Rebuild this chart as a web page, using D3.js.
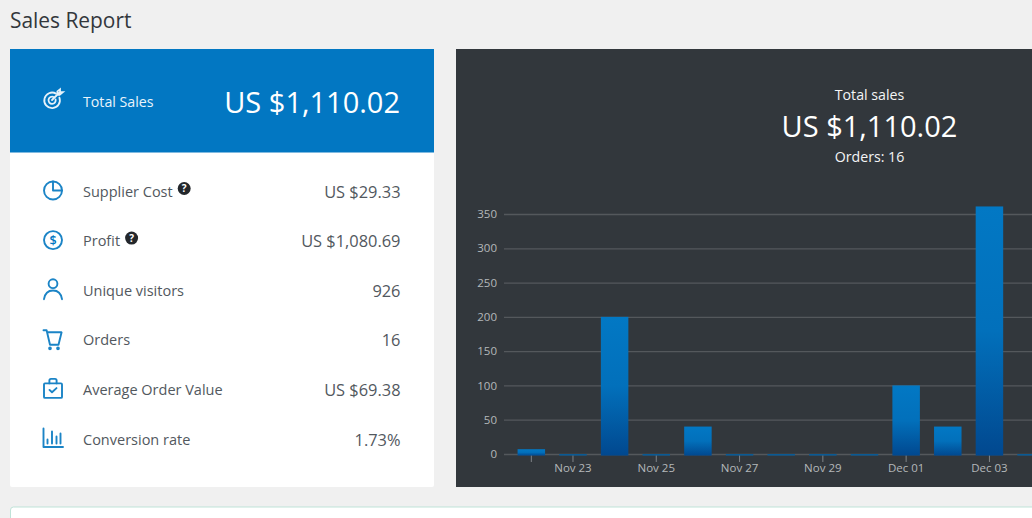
<!DOCTYPE html>
<html>
<head>
<meta charset="utf-8">
<title>Sales Report</title>
<script src="https://cdn.jsdelivr.net/npm/d3@7/dist/d3.min.js"></script>
<style>
html,body{margin:0;padding:0;background:#f0f0f0;overflow:hidden}
svg{display:block}
text{font-family:"Open Sans","Noto Sans",sans-serif}
</style>
</head>
<body>
<svg id="page" width="1032" height="518"></svg>
<script>
// Daily sales, one entry per day
const days = ["Nov 22","Nov 23","Nov 24","Nov 25","Nov 26","Nov 27","Nov 28","Nov 29","Nov 30","Dec 01","Dec 02","Dec 03","Dec 04"];
const sales = [7,0,200,0,40,0,0,0,0,100,40,361,0];
const tickDays = ["Nov 23","Nov 25","Nov 27","Nov 29","Dec 01","Dec 03"];
const markedDays = ["Nov 22","Nov 23","Nov 25","Nov 27","Nov 29","Dec 01","Dec 03"];
const valueTicks = [0,50,100,150,200,250,300,350];

// Summary list on the left card
const metricNames = ["Supplier Cost","Profit","Unique visitors","Orders","Average Order Value","Conversion rate"];
const metricValues = ["US $29.33","US $1,080.69","926","16","US $69.38","1.73%"];
const metricIcons = ["pie","dollar","user","cart","bag","bars"];
const metricHelp = [true,true,false,false,false,false];
const totalSales = "US $1,110.02";
const orderCount = 16;

const blue = "#0277c2", ink = "#52585e";
const svg = d3.select("#page");

svg.append("text").attr("x",10).attr("y",28).attr("font-size",20.9).attr("fill","#33373c").text("Sales Report");

// Left card
svg.append("rect").attr("x",10).attr("y",49).attr("width",424).attr("height",438).attr("rx",2).attr("fill","#fff");
svg.append("rect").attr("x",10).attr("y",49).attr("width",424).attr("height",103.5).attr("fill",blue);
const targetIcon = svg.append("g").attr("transform","translate(52,100)").attr("fill","none").attr("stroke","#e6f2fa").attr("stroke-width",1.8).attr("stroke-linecap","round");
targetIcon.append("path").attr("d","M4,-6.4A7.8,7.8 0 1 0 7.4,-2.4");
targetIcon.append("path").attr("d","M1.6,-3A3.6,3.6 0 1 0 3.6,-0.6");
targetIcon.append("path").attr("d","M0,0L7,-7M5.4,-5.4V-8.6L8,-10.6V-7.8H10.8L7.6,-5.2Z");
svg.append("text").attr("x",83).attr("y",106.5).attr("font-size",14.2).attr("fill","#eaf4fb").text("Total Sales");
svg.append("text").attr("x",400).attr("y",113).attr("text-anchor","end").attr("font-size",29).attr("fill","#fff").text(totalSales);

const rowY = d3.scalePoint().domain(metricNames).range([190.5,438.5]);
const iconDraw = {
  pie(g){
    g.append("circle").attr("r",9);
    g.append("path").attr("d","M0,-9V0H9");
  },
  dollar(g){
    g.append("circle").attr("r",9);
    g.append("text").attr("text-anchor","middle").attr("y",4.5).attr("font-size",12.5).attr("font-weight",600)
      .attr("stroke","none").attr("fill",blue).text("$");
  },
  user(g){
    g.append("circle").attr("cy",-6).attr("r",4.4);
    g.append("path").attr("d","M-9,9.5C-8,3 -4,0.8 0,0.8C4,0.8 8,3 9,9.5");
  },
  cart(g){
    g.append("path").attr("d","M-9.5,-9H-6.4L-3,5.5H5.5L8.6,-7H-5.6");
    g.append("circle").attr("cx",-3).attr("cy",9).attr("r",.9);
    g.append("circle").attr("cx",5).attr("cy",9).attr("r",.9);
  },
  bag(g){
    g.append("rect").attr("x",-9).attr("y",-5.5).attr("width",18).attr("height",14.5).attr("rx",1);
    g.append("path").attr("d","M-3.6,-5.5V-8.4Q-3.6,-10 -2,-10H2Q3.6,-10 3.6,-8.4V-5.5M-3.5,1L-1,3.4L3.5,-0.8");
  },
  bars(g){
    g.append("path").attr("d","M-9.5,-10V8.5H10M-5.5,5V1M-1,5V-7M3.5,5V-2M7.5,5V-5");
  }
};

const rows = svg.selectAll("g.row").data(metricNames).join("g").attr("class","row")
  .attr("transform",d=>`translate(0,${rowY(d)})`);
rows.append("g").attr("transform","translate(53,0)").attr("fill","none").attr("stroke","#1b84c6").attr("stroke-width",1.9)
  .attr("stroke-linecap","round").attr("stroke-linejoin","round")
  .each(function(d,i){ iconDraw[metricIcons[i]](d3.select(this)); });
rows.append("text").attr("class","name").attr("x",83).attr("y",6).attr("font-size",14.5).attr("fill",ink).text(d=>d);
rows.append("text").attr("x",400.5).attr("y",7).attr("text-anchor","end").attr("font-size",16.4).attr("fill",ink)
  .text((d,i)=>metricValues[i]);

// Small help badge after the labels that have one
rows.filter((d,i)=>metricHelp[i]).each(function(){
  const row = d3.select(this);
  const end = row.select("text.name").node().getComputedTextLength();
  const badge = row.append("g").attr("transform",`translate(${83+end+11.5},-2)`);
  badge.append("circle").attr("r",6.5).attr("fill","#23272b");
  badge.append("text").attr("text-anchor","middle").attr("y",3.8).attr("font-size",10).attr("font-weight",700).attr("fill","#fff").text("?");
});

// Bottom notice strip
svg.append("rect").attr("x",10.5).attr("y",507).attr("width",1040).attr("height",30).attr("rx",3)
  .attr("fill","#fff").attr("stroke","#bfe3d8");

// Dark chart panel
svg.append("rect").attr("x",456).attr("y",49).attr("width",590).attr("height",438).attr("fill","#32373c");
svg.append("text").attr("x",869.5).attr("y",100).attr("text-anchor","middle").attr("font-size",14.2).attr("fill","#f4f5f6").text("Total sales");
svg.append("text").attr("x",869.5).attr("y",137).attr("text-anchor","middle").attr("font-size",29).attr("fill","#fff").text(totalSales);
svg.append("text").attr("x",869.5).attr("y",162).attr("text-anchor","middle").attr("font-size",14.2).attr("fill","#f4f5f6").text("Orders: "+orderCount);

const x = d3.scaleBand().domain(days).range([510.5,1051.9]).paddingInner(0.34).paddingOuter(0.17);
const y = d3.scaleLinear().domain([0,350]).range([454,214]);
const barFoot = 1.6;

const grad = svg.append("defs").append("linearGradient").attr("id","barFill").attr("x1",0).attr("x2",0).attr("y1",0).attr("y2",1);
grad.append("stop").attr("offset","0").attr("stop-color","#0278c4");
grad.append("stop").attr("offset","0.5").attr("stop-color","#0270bb");
grad.append("stop").attr("offset","1").attr("stop-color","#01488f");

const yAxis = svg.append("g").attr("transform","translate(504,0)")
  .call(d3.axisLeft(y).tickValues(valueTicks).tickSize(-540).tickPadding(7));
yAxis.select(".domain").remove();
yAxis.selectAll("line").attr("stroke","#54585c").attr("stroke-width",1.3);
yAxis.selectAll("text").attr("fill","#b4b7ba").attr("font-size",11.5).attr("font-family",'"Open Sans"');

// Ticks below the baseline, labelled on alternate days
const xAxis = svg.append("g").attr("transform","translate(0,454)")
  .call(d3.axisBottom(x).tickValues(markedDays).tickSize(8).tickPadding(2).tickFormat(d=>tickDays.includes(d)?d:""));
xAxis.select(".domain").remove();
xAxis.selectAll("line").attr("stroke","#7f8387");
xAxis.selectAll("text").attr("fill","#b4b7ba").attr("font-size",11.5).attr("font-family",'"Open Sans"');

svg.selectAll("rect.bar").data(days).join("rect").attr("class","bar")
  .attr("x",d=>x(d)).attr("width",x.bandwidth())
  .attr("y",(d,i)=>y(sales[i]))
  .attr("height",(d,i)=>y(0)-y(sales[i])+barFoot)
  .attr("fill",(d,i)=>sales[i]>0?"url(#barFill)":"#0a5a94");
</script>
</body>
</html>
